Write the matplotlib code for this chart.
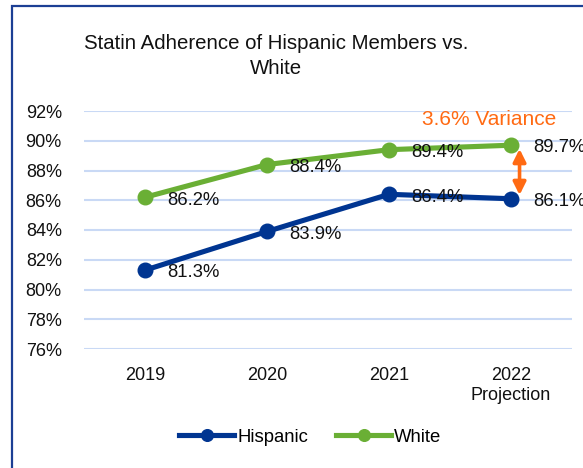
import matplotlib

matplotlib.use("Agg")
import matplotlib.pyplot as plt
from matplotlib.patches import Rectangle

plt.rcParams["font.family"] = ["Liberation Sans", "DejaVu Sans"]

YEARS = ["2019", "2020", "2021", "2022\nProjection"]
HISPANIC = [81.3, 83.9, 86.4, 86.1]
WHITE = [86.2, 88.4, 89.4, 89.7]
Y_TICKS = [76, 78, 80, 82, 84, 86, 88, 90, 92]

NAVY = "#003591"
GREEN = "#6AAF35"
ORANGE = "#FF6A13"
GRID = "#C9D9F5"


def main() -> None:
    fig = plt.figure(figsize=(5.83, 4.68), dpi=100)
    ax = fig.add_axes([84 / 583, 1 - 349 / 468, 488 / 583, 238 / 468])

    x = list(range(len(YEARS)))
    ax.plot(x, HISPANIC, color=NAVY, lw=3.7, marker="o", ms=10.5, label="Hispanic", zorder=3)
    ax.plot(x, WHITE, color=GREEN, lw=3.7, marker="o", ms=10.5, label="White", zorder=3)

    for xi, v in zip(x, HISPANIC):
        ax.annotate(f"{v:.1f}%", (xi, v), xytext=(16, -2), textcoords="offset points",
                    ha="left", va="center", fontsize=13.3, color="#111111", zorder=4)
    for xi, v in zip(x, WHITE):
        ax.annotate(f"{v:.1f}%", (xi, v), xytext=(16, -2), textcoords="offset points",
                    ha="left", va="center", fontsize=13.3, color="#111111", zorder=4)

    # variance arrow between the projection points
    ax.annotate("", xy=(3.07, WHITE[3] - 0.25), xytext=(3.07, HISPANIC[3] + 0.25),
                arrowprops=dict(arrowstyle="<|-|>", color=ORANGE, lw=2.6,
                                mutation_scale=19, shrinkA=0, shrinkB=0))
    gap = WHITE[3] - HISPANIC[3]
    ax.text(2.82, 91.4, f"{gap:.1f}% Variance", color=ORANGE, fontsize=15,
            ha="center", va="center")

    ax.set_xlim(-0.5, 3.5)
    ax.set_ylim(76, 92)
    ax.set_yticks(Y_TICKS)
    ax.set_yticklabels([f"{t}%" for t in Y_TICKS])
    ax.set_xticks(x)
    ax.set_xticklabels(YEARS, linespacing=1.2)
    ax.tick_params(axis="both", length=0, labelsize=13, colors="#111111")
    ax.tick_params(axis="y", pad=16)
    ax.tick_params(axis="x", pad=13)
    ax.grid(axis="y", color=GRID, lw=1.5)
    ax.set_axisbelow(True)
    for spine in ax.spines.values():
        spine.set_visible(False)

    fig.text(276 / 583, 1 - 56 / 468, "Statin Adherence of Hispanic Members vs.\nWhite",
             ha="center", va="center", fontsize=14.7, linespacing=1.35, color="#111111")

    fig.legend(loc="center", bbox_to_anchor=(0.532, 1 - 437 / 468), ncol=2, frameon=False,
               fontsize=13.3, handlelength=3.0, handletextpad=0.15, columnspacing=1.5,
               markerscale=0.8)

    fig.patches.append(Rectangle((12 / 583, -0.1), 1.2, 1 - 6 / 468 + 0.1,
                                 transform=fig.transFigure, fill=False,
                                 edgecolor="#1C3F94", lw=1.6))

    fig.savefig("out.png", dpi=100)
    plt.close(fig)


if __name__ == "__main__":
    main()
